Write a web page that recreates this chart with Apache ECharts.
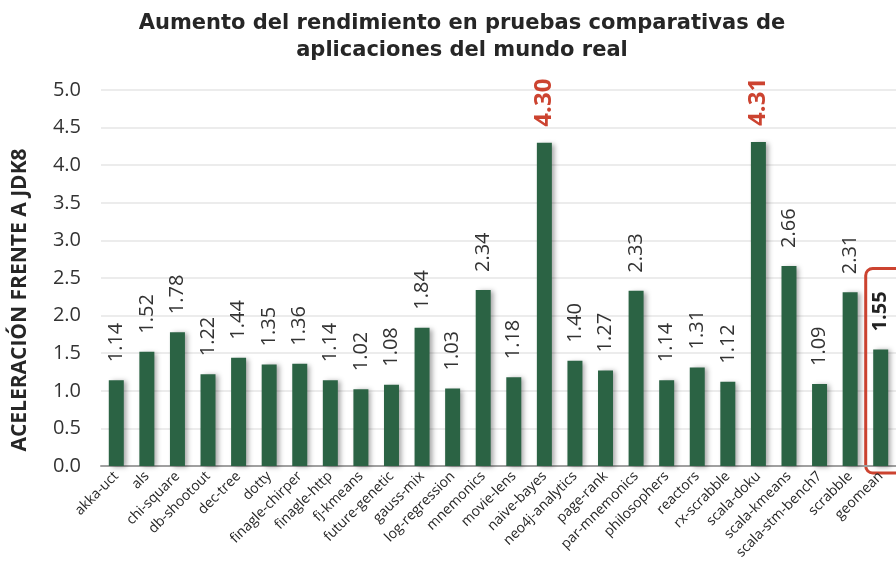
<!DOCTYPE html>
<html>
<head>
<meta charset="utf-8">
<script src="https://cdn.jsdelivr.net/npm/echarts@6/dist/echarts.min.js"></script>
<style>
  html, body { margin: 0; padding: 0; background: #fff; }
  #grafico { width: 896px; height: 568px; }
</style>
</head>
<body>
<div id="grafico"></div>
<script>
var grafico = echarts.init(document.getElementById("grafico"));

// benchmarks y aceleración frente a JDK8
let pruebas = ["akka-uct", "als", "chi-square", "db-shootout", "dec-tree", "dotty",
  "finagle-chirper", "finagle-http", "fj-kmeans", "future-genetic", "gauss-mix",
  "log-regression", "mnemonics", "movie-lens", "naive-bayes", "neo4j-analytics",
  "page-rank", "par-mnemonics", "philosophers", "reactors", "rx-scrabble",
  "scala-doku", "scala-kmeans", "scala-stm-bench7", "scrabble", "geomean"];
let aceleracion = [1.14, 1.52, 1.78, 1.22, 1.44, 1.35, 1.36, 1.14, 1.02, 1.08, 1.84,
  1.03, 2.34, 1.18, 4.30, 1.40, 1.27, 2.33, 1.14, 1.31, 1.12, 4.31, 2.66, 1.09, 2.31, 1.55];
let destacados = ["naive-bayes", "scala-doku"];
let resumen = "geomean";

let fuente = "'Open Sans', 'Noto Sans', sans-serif";

let datos = aceleracion.map(function (v, i) {
  let item = { value: v };
  if (destacados.indexOf(pruebas[i]) >= 0) {
    item.label = { color: "#cc4330", fontWeight: "bold", fontSize: 24, distance: 16 };
  } else if (pruebas[i] === resumen) {
    item.label = { color: "#222", fontWeight: "bold" };
  }
  return item;
});

grafico.setOption({
  animation: false,
  title: {
    text: "Aumento del rendimiento en pruebas comparativas de\naplicaciones del mundo real",
    left: 457,
    top: 5,
    textAlign: "center",
    textStyle: {
      fontFamily: "'DejaVu Sans', sans-serif",
      fontWeight: "bold",
      fontSize: 21,
      lineHeight: 27,
      color: "#262626"
    }
  },
  grid: { left: 101, right: -3, top: 90, bottom: 102 },
  xAxis: {
    type: "category",
    data: pruebas,
    axisTick: { show: false },
    axisLine: { lineStyle: { color: "#a0a0a0", width: 2 } },
    axisLabel: {
      rotate: 45,
      interval: 0,
      fontFamily: fuente,
      fontSize: 14,
      color: "#262626",
      margin: 8
    }
  },
  yAxis: {
    type: "value",
    min: 0,
    max: 5,
    interval: 0.5,
    name: "ACELERACIÓN FRENTE A JDK8",
    nameLocation: "middle",
    nameGap: 70,
    nameTextStyle: {
      fontFamily: fuente,
      fontWeight: "bold",
      fontSize: 21,
      color: "#262626",
      padding: [0, 44, 0, 0]
    },
    axisLabel: {
      fontFamily: fuente,
      fontSize: 20,
      color: "#333",
      margin: 20,
      formatter: function (v) { return v.toFixed(1); }
    },
    splitLine: { lineStyle: { color: "#e6e6e6", width: 1.5 } }
  },
  series: [
    {
      type: "bar",
      data: datos,
      barWidth: 15,
      itemStyle: {
        color: "#2b6344",
        shadowColor: "rgba(0,0,0,0.35)",
        shadowBlur: 5,
        shadowOffsetX: 3,
        shadowOffsetY: 1
      },
      label: {
        show: true,
        position: "top",
        rotate: 90,
        align: "left",
        verticalAlign: "middle",
        distance: 18,
        fontFamily: fuente,
        fontSize: 20,
        color: "#333",
        formatter: function (p) { return p.value.toFixed(2); }
      }
    }
  ]
});

// recuadro rojo alrededor de geomean
let idx = pruebas.indexOf(resumen);
let base = grafico.convertToPixel({ xAxisIndex: 0, yAxisIndex: 0 }, [idx, 0]);
let tope = grafico.convertToPixel({ xAxisIndex: 0, yAxisIndex: 0 }, [idx, aceleracion[idx]]);
grafico.setOption({
  graphic: [
    {
      type: "rect",
      shape: { x: base[0] - 15, y: tope[1] - 81, width: 40, height: base[1] - tope[1] + 88, r: 7 },
      style: { fill: "none", stroke: "#cc4330", lineWidth: 3 }
    }
  ]
});
</script>
</body>
</html>
